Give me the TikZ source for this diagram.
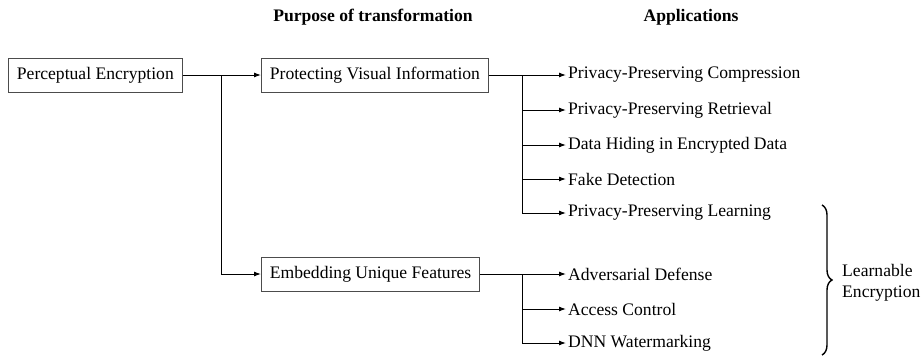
\documentclass[tikz,border=0pt]{standalone}
\usepackage{fontspec}
\setmainfont{Liberation Serif}
\usetikzlibrary{arrows.meta,decorations.pathreplacing}
\tikzset{
  box/.style={draw=black!70, line width=0.8pt, minimum height=34pt, inner xsep=8.5pt, anchor=west},
  app/.style={anchor=west, inner xsep=2pt},
  link/.style={line width=1pt, -{Latex[length=7pt,width=5pt]}},
  head/.style={font=\fontsize{17.6}{21}\selectfont\bfseries}
}
\begin{document}
\begin{tikzpicture}[x=1pt, y=-1pt, font=\fontsize{17.6}{21}\selectfont]
      \useasboundingbox (0,0) rectangle (923,357);
      \draw
        (373,17) node[head] (purpose){Purpose of transformation}
        (691,17) node[head] (apps){Applications}
        (8,75) node[box] (pe){Perceptual Encryption}
        (261,75) node[box] (pvi){Protecting Visual Information}
        (261,274) node[box] (euf){Embedding Unique Features}
        (566,75) node[app] (a1){Privacy-Preserving Compression}
        (566,110) node[app] (a2){Privacy-Preserving Retrieval}
        (566,145) node[app] (a3){Data Hiding in Encrypted Data}
        (566,179) node[app] (a4){Fake Detection}
        (566,213) node[app] (a5){Privacy-Preserving Learning}
        (566,274) node[app] (b1){Adversarial Defense}
        (566,309) node[app] (b2){Access Control}
        (566,343) node[app] (b3){DNN Watermarking}
        (840,283) node[anchor=west, align=left, inner xsep=2pt] (le){Learnable\\Encryption};
      \coordinate (j1) at (221,75);
      \coordinate (j2) at (522,75);
      \coordinate (j3) at (522,274);
      \begin{scope}[link]
        \draw (pe) to (pvi);
        \draw (j1) |- (euf);
        \draw (pvi) to (a1);
        \draw (j2) |- (a2);
        \draw (j2) |- (a3);
        \draw (j2) |- (a4);
        \draw (j2) |- (a5);
        \draw (euf) to (b1);
        \draw (j3) |- (b2);
        \draw (j3) |- (b3);
      \end{scope}
      \draw[line width=1.4pt, decorate, decoration={brace, amplitude=10pt}]
        (822,205) -- (822,355);
    \end{tikzpicture}
\end{document}
